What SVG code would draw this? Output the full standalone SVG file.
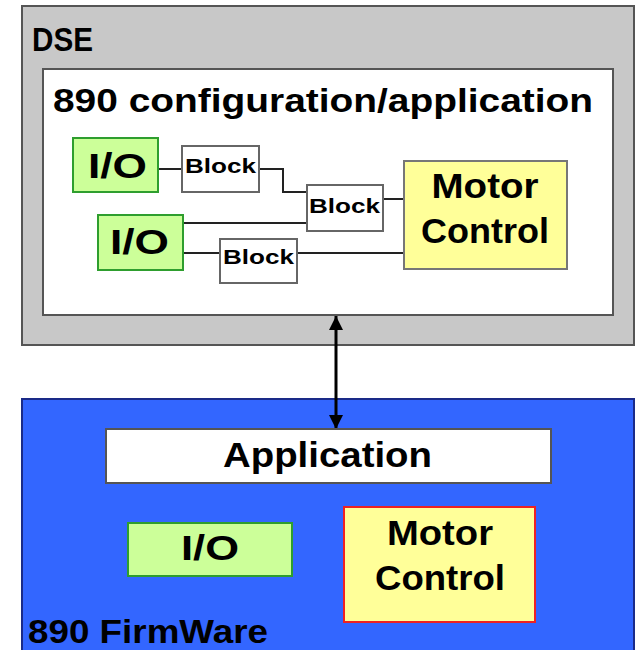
<svg xmlns="http://www.w3.org/2000/svg" width="635" height="650" viewBox="0 0 635 650">
<defs>
<style>
text{font-family:"Liberation Sans",Arial,sans-serif;font-weight:bold;fill:#000}
.big{font-size:34px}
.mid{font-size:35px}
.blk{font-size:20px}
.io{fill:#ccff99;stroke:#2e9e2e;stroke-width:2}
.mc{fill:#ffff99;stroke:#777;stroke-width:2}
.bl{fill:#fff;stroke:#666;stroke-width:2}
.wire{fill:none;stroke:#222;stroke-width:2}
</style>
<marker id="ah2" viewBox="0 0 10 10" refX="10" refY="5" markerWidth="14" markerHeight="16" markerUnits="userSpaceOnUse" orient="auto-start-reverse"><path d="M0,0L10,5L0,10z" fill="#000"/></marker>
</defs>
<g id="dse">
<rect x="22" y="6" width="612" height="339" fill="#c8c8c8" stroke="#555" stroke-width="2"/>
<text x="32" y="51" class="big" textLength="61" lengthAdjust="spacingAndGlyphs">DSE</text>
</g>
<g id="config">
<rect x="43" y="69" width="570" height="246" fill="#fff" stroke="#555" stroke-width="2"/>
<text x="53" y="112" class="big" textLength="540" lengthAdjust="spacingAndGlyphs">890 configuration/application</text>
</g>
<g id="firmware">
<rect x="22" y="399" width="612" height="260" fill="#3366ff" stroke="#1a2a88" stroke-width="2"/>
<text x="28" y="643" class="big" textLength="240" lengthAdjust="spacingAndGlyphs">890 FirmWare</text>
</g>
<g id="connectors">
<path class="wire" d="M158,169H182"/>
<path class="wire" d="M259,169H283V192H307"/>
<path class="wire" d="M183,223H307"/>
<path class="wire" d="M183,253H220"/>
<path class="wire" d="M297,253H404"/>
<path class="wire" d="M383,199H404"/>
<path d="M336,316V429" fill="none" stroke="#000" stroke-width="3" marker-start="url(#ah2)" marker-end="url(#ah2)"/>
</g>
<g id="io1"><rect class="io" x="73" y="138" width="85" height="54"/><text x="88" y="178" class="mid" textLength="59" lengthAdjust="spacingAndGlyphs">I/O</text></g>
<g id="io2"><rect class="io" x="98" y="215" width="85" height="55"/><text x="110" y="254" class="mid" textLength="59" lengthAdjust="spacingAndGlyphs">I/O</text></g>
<g id="block1"><rect class="bl" x="182" y="146" width="77" height="46"/><text x="185" y="173" class="blk" textLength="71" lengthAdjust="spacingAndGlyphs">Block</text></g>
<g id="block2"><rect class="bl" x="307" y="185" width="76" height="46"/><text x="309" y="213" class="blk" textLength="71" lengthAdjust="spacingAndGlyphs">Block</text></g>
<g id="block3"><rect class="bl" x="220" y="239" width="77" height="44"/><text x="223" y="264" class="blk" textLength="71" lengthAdjust="spacingAndGlyphs">Block</text></g>
<g id="motor1"><rect class="mc" x="404" y="161" width="163" height="108"/>
<text x="485" y="198" class="mid" text-anchor="middle" textLength="107" lengthAdjust="spacingAndGlyphs">Motor</text>
<text x="485" y="243" class="mid" text-anchor="middle" textLength="128" lengthAdjust="spacingAndGlyphs">Control</text></g>
<g id="application"><rect x="106" y="429" width="445" height="54" fill="#fff" stroke="#555" stroke-width="2"/>
<text x="223" y="467" class="mid" textLength="209" lengthAdjust="spacingAndGlyphs">Application</text></g>
<g id="io3"><rect class="io" x="128" y="523" width="164" height="53"/><text x="210" y="560" class="mid" text-anchor="middle" textLength="58" lengthAdjust="spacingAndGlyphs">I/O</text></g>
<g id="motor2"><rect x="344" y="507" width="191" height="115" fill="#ffff99" stroke="#ee2222" stroke-width="2"/>
<text x="440" y="545" class="mid" text-anchor="middle" textLength="106" lengthAdjust="spacingAndGlyphs">Motor</text>
<text x="440" y="590" class="mid" text-anchor="middle" textLength="130" lengthAdjust="spacingAndGlyphs">Control</text></g>
</svg>
